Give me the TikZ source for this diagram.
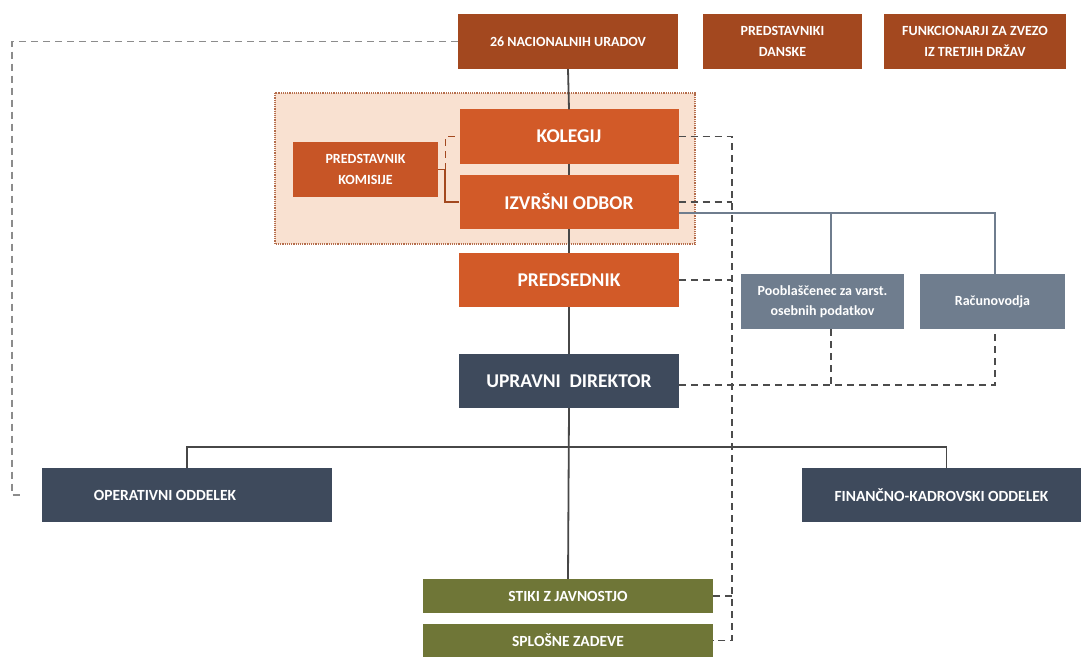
\documentclass[tikz,border=0pt]{standalone}
\usepackage{fontspec}
\setmainfont{Carlito}
\usepackage{tikz}

\definecolor{rustdark}{HTML}{A3481F}
\definecolor{rust}{HTML}{D25A28}
\definecolor{slate}{HTML}{3E4A5C}
\definecolor{slatelight}{HTML}{6F7D8E}
\definecolor{olive}{HTML}{6F7637}
\definecolor{peach}{HTML}{F9E1D1}

\begin{document}
\begin{tikzpicture}[x=1pt,y=-1pt,
  box/.style={inner sep=0pt, text=white, align=center},
  big/.style={font=\fontsize{19.5}{22}\selectfont\bfseries},
  mid/.style={font=\fontsize{15.5}{20}\selectfont\bfseries},
  small/.style={font=\fontsize{14}{20.5}\selectfont\bfseries},
  trunk/.style={draw=black!72, line width=1.8pt},
  dashline/.style={draw=black!70, line width=1.3pt, dash pattern=on 7pt off 5pt}]
\useasboundingbox (0,0) rectangle (1083,666);

% group behind KOLEGIJ / IZVRSNI ODBOR
\draw[fill=peach, draw=rustdark!80, line width=1.2pt, densely dotted] (275,93) rectangle (695,244);

% top row
\node[box, small, fill=rustdark, minimum width=220, minimum height=55] (nac) at (568,41.5) {26 NACIONALNIH URADOV};
\node[box, small, fill=rustdark, minimum width=159, minimum height=55] (dan) at (782.5,41.5) {PREDSTAVNIKI\\DANSKE};
\node[box, small, fill=rustdark, minimum width=182, minimum height=55] (fun) at (975,41.5) {FUNKCIONARJI ZA ZVEZO\\IZ TRETJIH DRŽAV};

% board
\node[box, big, fill=rust, minimum width=219, minimum height=54] (kol) at (569,136.5) {KOLEGIJ};
\node[box, big, fill=rust, minimum width=219, minimum height=54] (izv) at (569,202) {IZVRŠNI ODBOR};
\node[box, small, fill=rust!95!black, minimum width=145, minimum height=55] (kom) at (365.5,169.5) {PREDSTAVNIK\\KOMISIJE};

% management
\node[box, big, fill=rust, minimum width=220, minimum height=54] (pre) at (569,280) {PREDSEDNIK};
\node[box, big, fill=slate, minimum width=220, minimum height=54] (upr) at (569,381) {UPRAVNI~ DIREKTOR};
\node[box, small, fill=slatelight, minimum width=163, minimum height=55] (pob) at (822.5,301.5) {Pooblaščenec za varst.\\osebnih podatkov};
\node[box, small, fill=slatelight, minimum width=145, minimum height=55] (rac) at (992.5,301.5) {Računovodja};

% departments
\node[box, mid, fill=slate, minimum width=290, minimum height=54] (op) at (187,495) {OPERATIVNI ODDELEK\hspace*{44pt}};
\node[box, mid, fill=slate, minimum width=279, minimum height=54] (fin) at (941.5,495) {FINANČNO-KADROVSKI ODDELEK};
\node[box, mid, fill=olive, minimum width=290, minimum height=34] (sti) at (568,596) {STIKI Z JAVNOSTJO};
\node[box, mid, fill=olive, minimum width=290, minimum height=33] (spl) at (568,640.5) {SPLOŠNE ZADEVE};

\coordinate (rail) at (732,0);
\coordinate (edge) at (12,0);

% solid lines
\draw[trunk] (nac.south) -- (kol.north);
\draw[trunk] (kol.south) -- (izv.north);
\draw[trunk] (izv.south) -- (pre.north);
\draw[trunk] (pre.south) -- (upr.north);
\draw[trunk] (upr.south) -- (sti.north);
\draw[trunk] (op.north) -- ++(0,-21) -| ([xshift=5pt]fin.north);
\draw[draw=rustdark, line width=1.5pt] (kom.east) -- ++(7,0) |- (izv.west);
\draw[draw=slatelight, line width=1.5pt] ([yshift=-11pt]izv.east) -| ([xshift=8.5pt]pob.north);
\draw[draw=slatelight, line width=1.5pt] ([yshift=-11pt]izv.east) -| ([xshift=2.5pt]rac.north);

% dashed lines
\draw[dashline, draw=rustdark] ([xshift=7pt]kom.east) |- (kol.west);
\draw[dashline] (kol.east) -| (rail |- spl.east) -- (spl.east);
\draw[dashline] (izv.east) -- (rail |- izv.east);
\draw[dashline] (pre.east) -- (rail |- pre.east);
\draw[dashline] (sti.east) -- (rail |- sti.east);
\draw[dashline] ([yshift=-4pt]upr.east) -| ([xshift=2.5pt]rac.south);
\draw[dashline] ([xshift=8.5pt]pob.south) -- ([xshift=8.5pt]pob.south |- 0,385);
\draw[dashline, draw=black!45, shorten >=18pt] (nac.west) -| (edge |- op.west) -- (op.west);
\end{tikzpicture}
\end{document}
